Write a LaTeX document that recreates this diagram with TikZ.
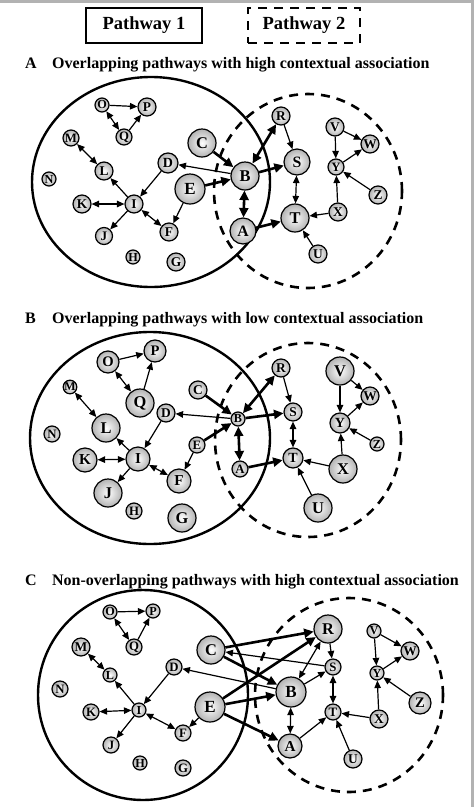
\documentclass[tikz,border=0pt]{standalone}
\usepackage{fontspec}
\setmainfont{Liberation Serif}
\usetikzlibrary{arrows.meta,shapes.geometric}
\tikzset{
  nd/.style={circle, draw=black, line width=1.2pt, inner color=white, outer color=gray!60, inner sep=0pt},
  e/.style={line width=1.2pt, -{Triangle[length=7.5pt,width=6.5pt]}},
  eb/.style={line width=1.2pt, {Triangle[length=7.5pt,width=6.5pt]}-{Triangle[length=7.5pt,width=6.5pt]}},
  te/.style={line width=2.6pt, -{Triangle[length=9.5pt,width=9pt]}},
  teb/.style={line width=2.6pt, {Triangle[length=9.5pt,width=9pt]}-{Triangle[length=9.5pt,width=9pt]}},
  pw2/.style={draw, line width=2.6pt, dash pattern=on 9pt off 7pt},
  ttl/.style={anchor=base west, inner sep=0pt, font=\bfseries\fontsize{16}{18}\selectfont},
}
\newcommand\nd[5]{%
  \pgfmathsetmacro\fsz{8+0.3*#4}%
  \node[nd, minimum size=#4 pt, font=\bfseries\fontsize{\fsz}{\fsz}\selectfont] (#1) at (#2,#3) {#5};}
\begin{document}
\begin{tikzpicture}[x=1pt,y=-1pt]
\useasboundingbox (0,0) rectangle (474,807);
\fill[white] (0,0) rectangle (474,807);
\fill[gray!60] (0,0) rectangle (474,3);
\fill[gray!60] (471,0) rectangle (474,807);

% legend
\node[draw, line width=2pt, minimum width=116pt, minimum height=35pt, font=\bfseries\fontsize{18.5}{20}\selectfont] (leg1) at (144,25.5) {Pathway 1};
\node[draw, line width=2.5pt, dash pattern=on 9pt off 7pt, minimum width=112pt, minimum height=35pt, font=\bfseries\fontsize{18.5}{20}\selectfont] (leg2) at (304,25.5) {Pathway 2};

% titles
\node[ttl] (tA) at (25,68) {\makebox[27pt][l]{A}Overlapping pathways with high contextual association};
\node[ttl] (tB) at (25,323) {\makebox[27pt][l]{B}Overlapping pathways with low contextual association};
\node[ttl] (tC) at (25,585) {\makebox[27pt][l]{C}Non-overlapping pathways with high contextual association};

% pathway ellipses
\draw[line width=2.4pt] (151,182) ellipse [x radius=119pt, y radius=105pt];
\draw[pw2] (308,191) ellipse [x radius=94pt, y radius=97pt];
\draw[line width=2.4pt] (150,438) ellipse [x radius=120pt, y radius=106pt];
\draw[pw2] (308,440) ellipse [x radius=93pt, y radius=97pt];
\draw[line width=2.4pt] (143,695) ellipse [x radius=105pt, y radius=105pt];
\draw[pw2] (349,695) ellipse [x radius=94pt, y radius=97pt];

% ---------- panel A nodes
\nd{aO}{102}{105}{14}{O}
\nd{aP}{147}{107}{18}{P}
\nd{aQ}{124}{137}{16}{Q}
\nd{aM}{71}{138}{16}{M}
\nd{aL}{104}{171}{18}{L}
\nd{aN}{49}{179}{14}{N}
\nd{aK}{82}{204}{18}{K}
\nd{aI}{134}{204}{18}{I}
\nd{aJ}{104}{236}{17}{J}
\nd{aF}{169}{232}{18}{F}
\nd{aH}{133}{257}{14}{H}
\nd{aG}{176}{262}{18}{G}
\nd{aD}{168}{163}{20}{D}
\nd{aC}{202}{143}{28}{C}
\nd{aE}{190}{189}{30}{E}
\nd{aB}{245}{176}{28}{B}
\nd{aA}{243}{231}{26}{A}
\nd{aR}{281}{116}{18}{R}
\nd{aS}{297}{162}{26}{S}
\nd{aT}{295}{218}{28}{T}
\nd{aU}{318}{254}{18}{U}
\nd{aX}{338}{212}{18}{X}
\nd{aY}{336}{167}{16}{Y}
\nd{aV}{335}{127}{18}{V}
\nd{aW}{370}{144}{18}{W}
\nd{aZ}{378}{195}{18}{Z}

% ---------- panel B nodes
\nd{bO}{108}{362}{22}{O}
\nd{bP}{155}{351}{22}{P}
\nd{bQ}{140}{403}{28}{Q}
\nd{bM}{70}{387}{13}{M}
\nd{bL}{106}{428}{28}{L}
\nd{bN}{52}{434}{16}{N}
\nd{bK}{85}{460}{24}{K}
\nd{bI}{138}{459}{24}{I}
\nd{bJ}{108}{493}{28}{J}
\nd{bH}{134}{511}{16}{H}
\nd{bF}{179}{481}{24}{F}
\nd{bG}{182}{518}{28}{G}
\nd{bD}{166}{413}{18}{D}
\nd{bC}{198}{390}{18}{C}
\nd{bE}{197}{445}{16}{E}
\nd{bB}{238}{419}{14}{B}
\nd{bA}{240}{469}{16}{A}
\nd{bR}{281}{368}{18}{R}
\nd{bS}{293}{412}{18}{S}
\nd{bT}{293}{458}{20}{T}
\nd{bU}{318}{508}{28}{U}
\nd{bX}{343}{469}{28}{X}
\nd{bY}{340}{423}{20}{Y}
\nd{bV}{340}{371}{28}{V}
\nd{bW}{370}{396}{18}{W}
\nd{bZ}{377}{444}{14}{Z}

% ---------- panel C nodes
\nd{cO}{110}{612}{14}{O}
\nd{cP}{153}{611}{14}{P}
\nd{cQ}{134}{647}{16}{Q}
\nd{cM}{81}{647}{18}{M}
\nd{cL}{110}{675}{14}{L}
\nd{cN}{60}{689}{16}{N}
\nd{cK}{91}{712}{16}{K}
\nd{cI}{139}{710}{14}{I}
\nd{cJ}{111}{745}{16}{J}
\nd{cH}{140}{763}{14}{H}
\nd{cF}{183}{733}{16}{F}
\nd{cG}{183}{768}{16}{G}
\nd{cD}{174}{667}{16}{D}
\nd{cC}{211}{650}{28}{C}
\nd{cE}{210}{707}{30}{E}
\nd{cR}{328}{629}{28}{R}
\nd{cS}{333}{667}{16}{S}
\nd{cB}{291}{692}{30}{B}
\nd{cT}{333}{712}{16}{T}
\nd{cA}{290}{746}{24}{A}
\nd{cU}{353}{759}{18}{U}
\nd{cX}{379}{719}{18}{X}
\nd{cY}{377}{673}{14}{Y}
\nd{cV}{374}{631}{14}{V}
\nd{cW}{410}{651}{18}{W}
\nd{cZ}{420}{703}{22}{Z}

% ---------- edges common to all panels
\foreach \p in {a,b,c}{
  \draw[e] (\p O) -- (\p P);
  \draw[eb] (\p O) -- (\p Q);
  \draw[e] (\p Q) -- (\p P);
  \draw[eb] (\p M) -- (\p L);
  \draw[e] (\p I) -- (\p L);
  \draw[eb] (\p K) -- (\p I);
  \draw[e] (\p I) -- (\p J);
  \draw[eb] (\p I) -- (\p F);
  \draw[e] (\p D) -- (\p I);
  \draw[e] (\p E) -- (\p F);
  \draw[e] (\p B) -- (\p D);
  \draw[e] (\p R) -- (\p S);
  \draw[eb] (\p S) -- (\p T);
  \draw[e] (\p X) -- (\p T);
  \draw[e] (\p U) -- (\p T);
  \draw[e] (\p V) -- (\p Y);
  \draw[e] (\p V) -- (\p W);
  \draw[e] (\p Y) -- (\p W);
  \draw[e] (\p X) -- (\p Y);
  \draw[e] (\p Z) -- (\p Y);
}
% overlapping panels A and B
\foreach \p in {a,b}{
  \draw[te] (\p C) -- (\p B);
  \draw[te] (\p E) -- (\p B);
  \draw[teb] (\p B) -- (\p A);
  \draw[teb] (\p B) -- (\p R);
  \draw[te] (\p B) -- (\p S);
  \draw[te] (\p A) -- (\p T);
}
% non-overlapping panel C
\draw[te] (cC) -- (cR);
\draw[te] (cE) -- (cR);
\draw[te] (cC) -- (cB);
\draw[te] (cE) -- (cB);
\draw[te] (cE) -- (cA);
\draw[e] (cS) -- (cC);
\draw[eb] (cR) -- (cB);
\draw[e] (cB) -- (cS);
\draw[eb] (cB) -- (cA);
\draw[e] (cA) -- (cT);
\end{tikzpicture}
\end{document}
